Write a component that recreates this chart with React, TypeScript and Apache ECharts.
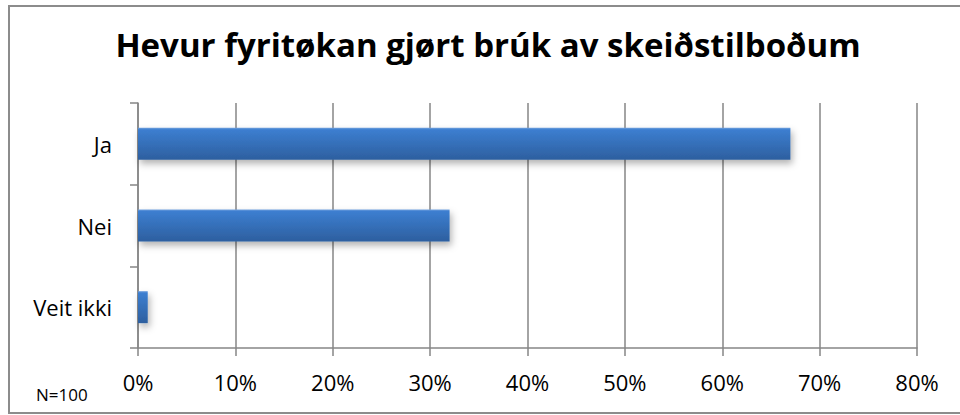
import React, { useEffect, useRef } from "react";
import * as echarts from "echarts";

const titleText = "Hevur fyritøkan gjørt brúk av skeiðstilboðum";
const categories = ["Ja", "Nei", "Veit ikki"];
const values = [67, 32, 1];
const footnote = "N=100";
const xMax = 80;
const xInterval = 10;

export default function App() {
  const ref = useRef<HTMLDivElement>(null);
  useEffect(() => {
    if (!ref.current) return;
    const chart = echarts.init(ref.current, null, { renderer: "svg" });
    chart.setOption({
      animation: false,
      backgroundColor: "#ffffff",
      title: {
        text: titleText,
        left: 488,
        textAlign: "center",
        top: 28,
        textStyle: { fontFamily: "'Open Sans', sans-serif", fontWeight: "bold", fontSize: 33, color: "#000" },
        padding: 0,
      },
      grid: { left: 138, right: 43, top: 103, bottom: 67 },
      xAxis: {
        type: "value",
        min: 0,
        max: xMax,
        interval: xInterval,
        axisLine: { show: true, lineStyle: { color: "#868686", width: 1.5 } },
        axisTick: { show: true, length: 8, lineStyle: { color: "#868686", width: 1.5 } },
        splitLine: { show: true, lineStyle: { color: "#868686", width: 1.5 } },
        axisLabel: {
          formatter: (v: number) => v + "%",
          fontFamily: "'Open Sans', sans-serif",
          fontSize: 22,
          color: "#000",
          margin: 23,
        },
      },
      yAxis: {
        type: "category",
        data: categories,
        inverse: true,
        axisLine: { show: true, lineStyle: { color: "#868686", width: 1.5 } },
        axisTick: { show: true, length: 8, lineStyle: { color: "#868686", width: 1.5 } },
        axisLabel: {
          fontFamily: "'Open Sans', sans-serif",
          fontSize: 22,
          color: "#000",
          margin: 26,
        },
      },
      series: [
        {
          type: "bar",
          data: values,
          barWidth: 32,
          itemStyle: {
            color: new echarts.graphic.LinearGradient(0, 0, 0, 1, [
              { offset: 0, color: "#6f9fdc" },
              { offset: 0.06, color: "#3c7ed0" },
              { offset: 1, color: "#2d5f9f" },
            ]),
            shadowColor: "rgba(0,0,0,0.3)",
            shadowBlur: 7,
            shadowOffsetX: 2,
            shadowOffsetY: 4,
          },
        },
      ],
      graphic: [
        {
          type: "rect",
          shape: { x: 9, y: 6, width: 960, height: 407 },
          style: { fill: "none", stroke: "#8c8c8c", lineWidth: 2 },
          z: -1,
        },
        {
          type: "text",
          x: 36,
          y: 394,
          style: {
            text: footnote,
            fontFamily: "'Open Sans', sans-serif",
            fontSize: 17,
            fill: "#000",
            verticalAlign: "middle",
          },
        },
      ],
    });
    return () => chart.dispose();
  }, []);
  return <div ref={ref} style={{ position: "fixed", left: 0, top: 0, width: 960, height: 415 }} />;
}
